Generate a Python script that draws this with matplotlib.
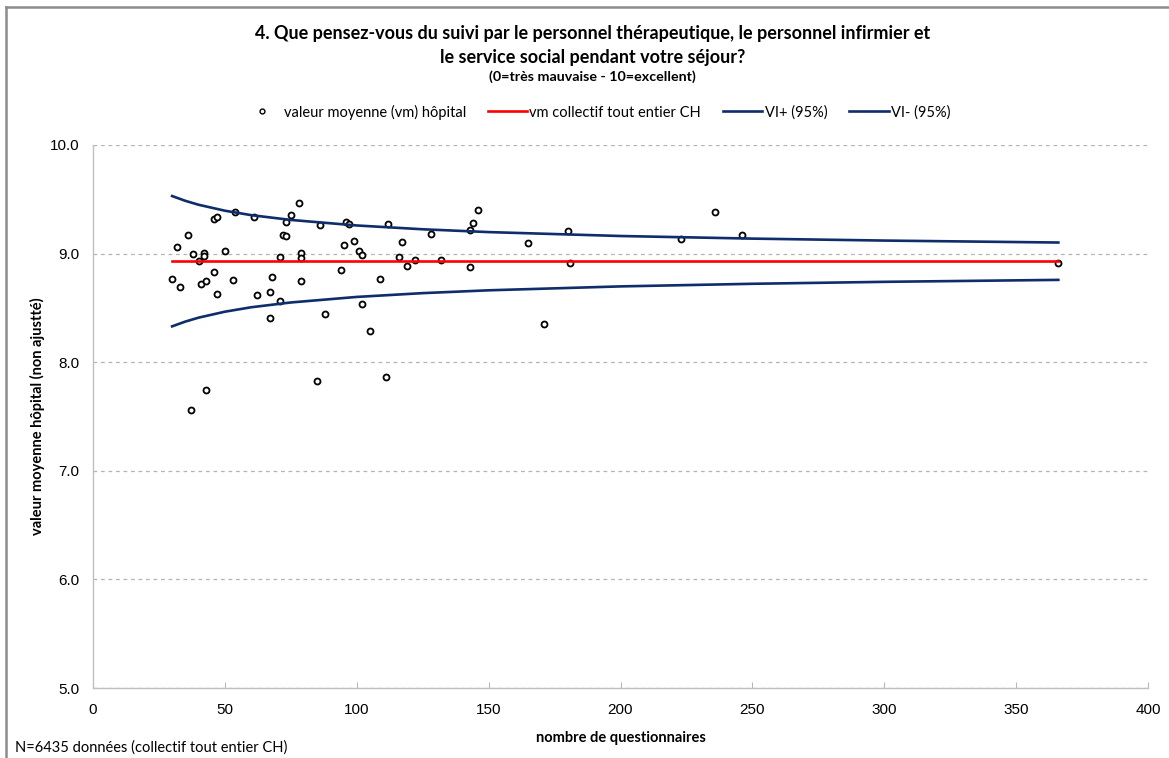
import numpy as np
import matplotlib
matplotlib.use('Agg')
import matplotlib.pyplot as plt
from matplotlib.lines import Line2D

# Moyennes par hôpital : nombre de questionnaires et valeur moyenne
hosp_n = [30, 32, 33, 36, 37, 38, 40, 41, 42, 42,
          43, 43, 46, 46, 47, 47, 50, 53, 54, 61,
          62, 67, 67, 68, 71, 71, 72, 73, 73, 75,
          78, 79, 79, 79, 85, 86, 88, 94, 95, 96,
          97, 99, 101, 102, 102, 105, 109, 111, 112, 116,
          117, 119, 122, 128, 132, 143, 143, 144, 146, 165,
          171, 180, 181, 223, 236, 246, 366]
hosp_vm = [8.77, 9.06, 8.69, 9.17, 7.56, 9.00, 8.93, 8.72, 9.01, 8.98,
           7.74, 8.75, 9.32, 8.83, 9.34, 8.63, 9.02, 8.76, 9.38, 9.34,
           8.62, 8.65, 8.41, 8.78, 8.97, 8.56, 9.17, 9.16, 9.29, 9.36,
           9.47, 9.01, 8.96, 8.75, 7.83, 9.26, 8.44, 8.85, 9.08, 9.29,
           9.27, 9.12, 9.02, 8.99, 8.54, 8.29, 8.77, 7.86, 9.27, 8.97,
           9.11, 8.89, 8.94, 9.18, 8.94, 9.22, 8.88, 9.28, 9.40, 9.10,
           8.35, 9.21, 8.91, 9.13, 9.38, 9.17, 8.91]

# Valeur moyenne du collectif tout entier
vm_ch = 8.93

# Limites de l'intervalle (95%)
vi_n = [30, 35, 40, 50, 60, 75, 100, 125, 150, 200, 250, 300, 366]
vi_plus = [9.530, 9.486, 9.450, 9.395, 9.354, 9.310, 9.259, 9.224, 9.198, 9.162, 9.138, 9.120, 9.102]
vi_minus = [8.330, 8.374, 8.410, 8.465, 8.506, 8.550, 8.601, 8.636, 8.662, 8.698, 8.722, 8.740, 8.758]

x_ticks = [0, 50, 100, 150, 200, 250, 300, 350, 400]
y_ticks = [5.0, 6.0, 7.0, 8.0, 9.0, 10.0]

title = ('4. Que pensez-vous du suivi par le personnel thérapeutique, le personnel infirmier et\n'
         'le service social pendant votre séjour?')
subtitle = '(0=très mauvaise - 10=excellent)'

navy = '#0f2d6b'
font_txt = ['Lato', 'DejaVu Sans']
font_num = ['Liberation Sans', 'DejaVu Sans']

fig = plt.figure(figsize=(11.69, 7.58), dpi=100)
ax = fig.add_axes([93/1169, 1-688/758, (1148-93)/1169, (688-145)/758])

ax.plot(hosp_n, hosp_vm, 'o', ms=4.3, mfc='white', mec='black', mew=1.3, zorder=3)
ax.plot([min(hosp_n), max(hosp_n)], [vm_ch, vm_ch], color='#ff0000', lw=1.9, zorder=4)
ax.plot(vi_n, vi_plus, color=navy, lw=1.9, zorder=4)
ax.plot(vi_n, vi_minus, color=navy, lw=1.9, zorder=4)

ax.set_xlim(0, 400)
ax.set_ylim(5, 10)
ax.set_xticks(x_ticks)
ax.set_yticks(y_ticks)
ax.set_yticklabels([f'{v:.1f}' for v in y_ticks], family=font_num, fontsize=11)
ax.set_xticklabels([str(v) for v in x_ticks], family=font_num, fontsize=11)
ax.tick_params(axis='x', direction='in', length=4, color='#b8b8b8', pad=11)
ax.tick_params(axis='y', length=0, pad=10)

ax.grid(axis='y', color='#b4b4b4', ls=(0, (3, 3)), lw=0.9)
for s in ['top', 'right']:
    ax.spines[s].set_visible(False)
for s in ['left', 'bottom']:
    ax.spines[s].set_color('#c0c0c0')
    ax.spines[s].set_linewidth(1.0)

ax.set_xlabel('nombre de questionnaires', family=font_txt, fontweight='bold', fontsize=10.5, labelpad=10)
fig.text(37/1169, 1-416/758, 'valeur moyenne hôpital (non ajustté)', rotation=90, ha='center', va='center',
         family=font_txt, fontweight='bold', fontsize=10.5)

fig.text(0.507, 1-45/758, title, ha='center', va='center', family=font_txt,
         fontweight='bold', fontsize=13, linespacing=1.5)
fig.text(0.507, 1-77/758, subtitle, ha='center', va='center', family=font_txt,
         fontweight='bold', fontsize=10.3)

handles = [Line2D([], [], ls='none', marker='o', ms=3.5, mfc='white', mec='black', mew=1.0),
           Line2D([], [], color='#ff0000', lw=1.9),
           Line2D([], [], color=navy, lw=1.9),
           Line2D([], [], color=navy, lw=1.9)]
labels = ['valeur moyenne (vm) hôpital', 'vm collectif tout entier CH', 'VI+ (95%)', 'VI- (95%)']
fig.legend(handles, labels, loc='center', bbox_to_anchor=(0.510, 1-112/758), ncol=4,
           frameon=False, prop={'family': font_txt, 'size': 10.5},
           handlelength=2.7, handletextpad=0.15, columnspacing=1.5)

fig.text(15/1169, 1-748/758, 'N=6435 données (collectif tout entier CH)', ha='left', va='center',
         family=font_txt, fontsize=10.5)

# cadre gris en haut et à gauche
fig.add_artist(Line2D([6/1169, 1], [1-7/758, 1-7/758], color='#8c8c8c', lw=1.8))
fig.add_artist(Line2D([6/1169, 6/1169], [0, 1-7/758], color='#8c8c8c', lw=1.8))

fig.savefig('out.png', dpi=100)
